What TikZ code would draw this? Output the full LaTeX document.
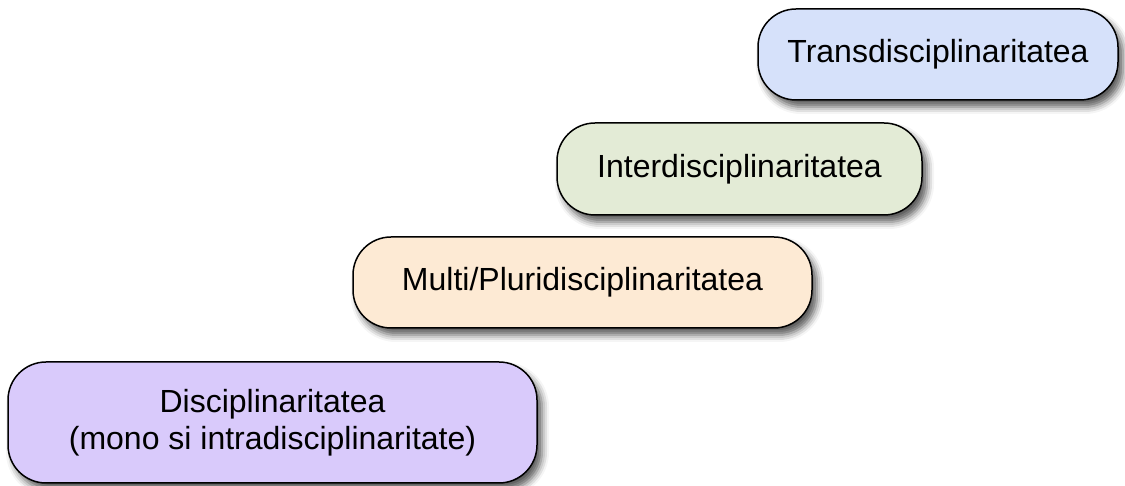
\documentclass[tikz,border=0pt]{standalone}
\usepackage{fontspec}
\setmainfont{Liberation Sans}
\usetikzlibrary{positioning,shadows.blur}

\definecolor{discfill}{RGB}{217,202,251}
\definecolor{multifill}{RGB}{253,234,212}
\definecolor{interfill}{RGB}{227,235,214}
\definecolor{transfill}{RGB}{214,225,250}

\begin{document}
\begin{tikzpicture}[x=1pt,y=1pt,
  lvl/.style={draw=black,line width=1.5pt,rounded corners=38pt,
    inner sep=0pt,align=center,text=black,
    font=\fontsize{32}{37}\selectfont,
    blur shadow={shadow xshift=5pt,shadow yshift=-7pt,
      shadow blur radius=7pt,shadow opacity=65}}]
\useasboundingbox (0,0) rectangle (1125,486);
\node[lvl,fill=discfill,minimum width=529pt,minimum height=121pt]
  (disc) at (272.5,63.5) {Disciplinaritatea\\(mono si intradisciplinaritate)};
\node[lvl,fill=multifill,minimum width=459pt,minimum height=91pt]
  (multi) at (582.5,203.5) {Multi/Pluridisciplinaritatea};
\node[lvl,fill=interfill,minimum width=365pt,minimum height=92pt]
  (inter) at (739.5,317) {Interdisciplinaritatea};
\node[lvl,fill=transfill,minimum width=360pt,minimum height=91pt]
  (trans) at (938,431.5) {Transdisciplinaritatea};
\end{tikzpicture}
\end{document}
